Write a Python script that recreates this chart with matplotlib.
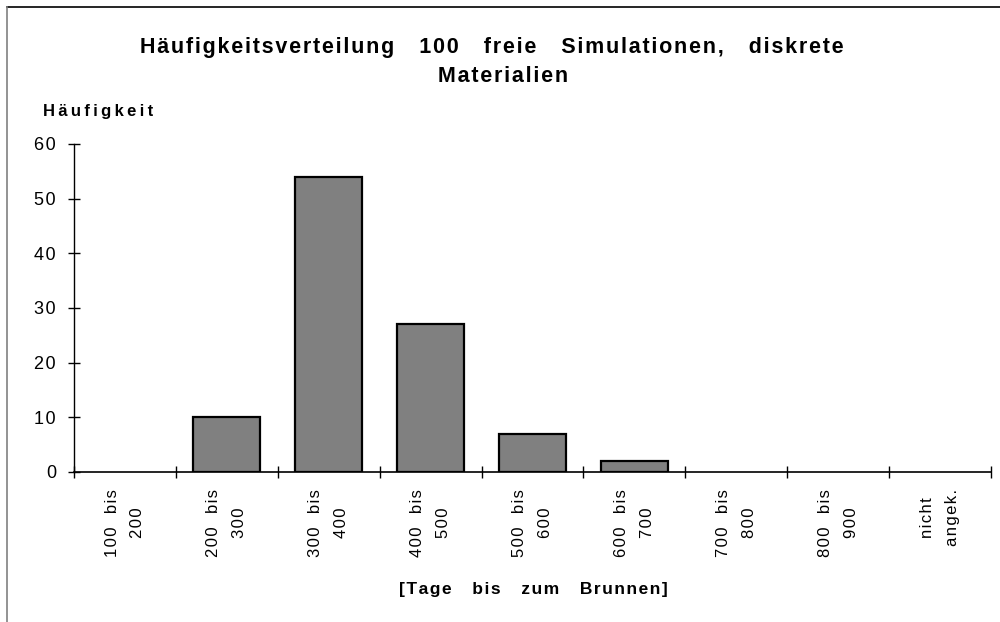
import matplotlib.pyplot as plt
import numpy as np
from matplotlib.lines import Line2D

plt.rcParams['font.family'] = ['Liberation Sans', 'DejaVu Sans']

kategorien = ['100  bis\n200', '200  bis\n300', '300  bis\n400', '400  bis\n500',
              '500  bis\n600', '600  bis\n700', '700  bis\n800', '800  bis\n900',
              'nicht\nangek.']
haeufigkeit = [0, 10, 54, 27, 7, 2, 0, 0, 0]
y_ticks = [0, 10, 20, 30, 40, 50, 60]


def gesperrt(text, sep='\u200a'):
    # Sperrschrift wie im Original nachahmen
    return '\n'.join(sep.join(zeile) for zeile in text.split('\n'))


fig = plt.figure(figsize=(10, 6.22), dpi=100)
ax = fig.add_axes([0.074, 0.2412, 0.917, 0.5273])

x = np.arange(len(kategorien))
randbreite = [1.6 if h > 0 else 0 for h in haeufigkeit]
ax.bar(x, haeufigkeit, width=0.66, color='#808080', edgecolor='black', linewidth=randbreite)

ax.set_xlim(-0.5, len(kategorien) - 0.5)
ax.set_ylim(0, 60)
ax.set_yticks(y_ticks)
ax.set_yticklabels([gesperrt(str(v)) for v in y_ticks])
ax.tick_params(axis='y', direction='inout', length=8, width=1, labelsize=13, pad=9)

# Kategoriegrenzen als Striche, Beschriftung in der Mitte
ax.set_xticks(np.arange(len(kategorien) + 1) - 0.5)
ax.set_xticklabels([])
ax.tick_params(axis='x', which='major', direction='inout', length=8, width=1)
ax.set_xticks(x, minor=True)
ax.set_xticklabels([gesperrt(k) for k in kategorien], minor=True, rotation=90, fontsize=12,
                   ha='center', va='top', multialignment='center', linespacing=1.9)
ax.tick_params(axis='x', which='minor', length=0, pad=12)

for s in ['top', 'right']:
    ax.spines[s].set_visible(False)
ax.spines['left'].set_linewidth(1)
ax.spines['bottom'].set_linewidth(1.2)

fig.text(0.4915, 0.9244, gesperrt('Häufigkeitsverteilung   100   freie   Simulationen,   diskrete'),
         ha='center', va='center', fontsize=15.5, fontweight='bold')
fig.text(0.503, 0.877, gesperrt('Materialien'), ha='center', va='center',
         fontsize=15.5, fontweight='bold')
fig.text(0.043, 0.8215, gesperrt('Häufigkeit', '\u2009'), ha='left', va='center',
         fontsize=12, fontweight='bold')
fig.text(0.533, 0.053, gesperrt('[Tage   bis   zum   Brunnen]'), ha='center', va='center',
         fontsize=12.5, fontweight='bold')

# Rahmen oben und links
fig.add_artist(Line2D([0.007, 1.0], [0.989, 0.989], color='black', linewidth=1.2))
fig.add_artist(Line2D([0.007, 0.007], [0.0, 0.989], color='#808080', linewidth=1.2))

fig.savefig('out.png', dpi=100)
